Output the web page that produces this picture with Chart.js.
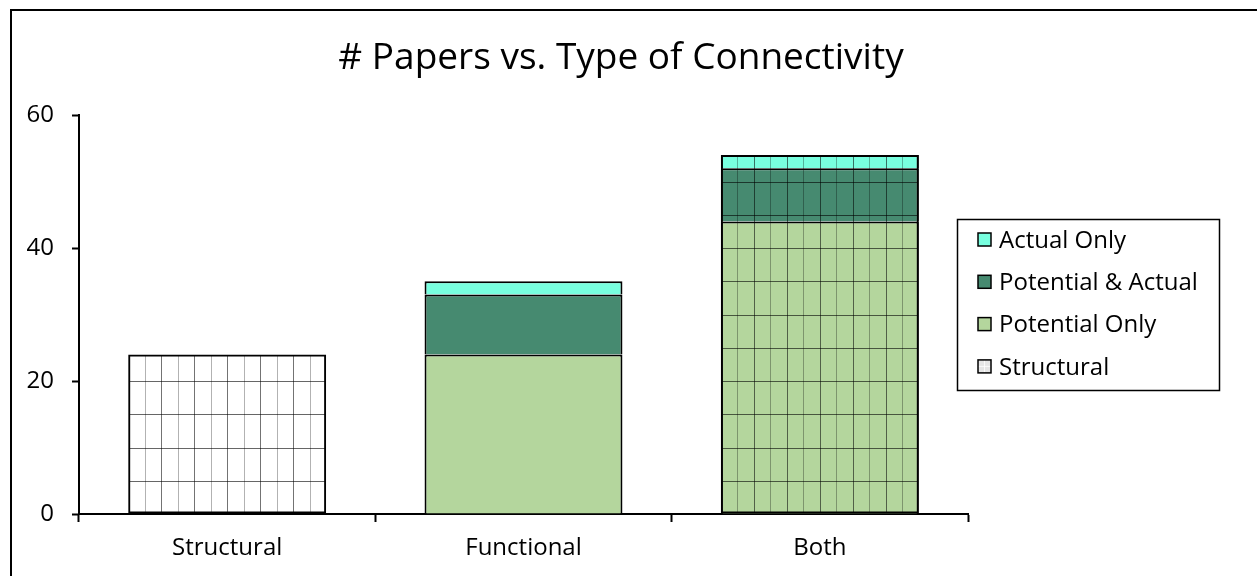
<!DOCTYPE html>
<html>
<head>
<meta charset="utf-8">
<script src="https://cdn.jsdelivr.net/npm/chart.js@4.4.1/dist/chart.umd.min.js"></script>
<style>
  html, body { margin: 0; padding: 0; background: #fff; }
  #wrap { position: relative; width: 1257px; height: 576px; }
</style>
</head>
<body>
<div id="wrap"><canvas id="chart"></canvas></div>
<script>
// Papers counted per connectivity type, split by how functional connectivity was used.
const categories = ["Structural", "Functional", "Both"];
const potentialOnly = [null, 24, 44];
const potentialActual = [null, 9, 8];
const actualOnly = [null, 2, 2];
const structural = [24, null, 54];
const yTicks = [0, 20, 40, 60];

const FONT = "'Open Sans', 'Noto Sans', sans-serif";
const GREEN_LIGHT = "#b4d69d";
const GREEN_DARK = "#468a70";
const CYAN = "#78ffdf";

// The structural series is a hollow bar with a fine grid inside it, laid over
// whatever functional segments share the category.
const structuralGrid = {
  id: "structuralGrid",
  afterDatasetsDraw(chart) {
    const { ctx, scales } = chart;
    const meta = chart.getDatasetMeta(0);
    meta.data.forEach((bar, i) => {
      const v = structural[i];
      if (v == null) return;
      const { x, y, base, width } = bar.getProps(["x", "y", "base", "width"], true);
      const left = x - width / 2;
      ctx.save();
      ctx.beginPath();
      ctx.rect(left + 1, y + 1, width - 2, base - y - 2);
      ctx.clip();
      ctx.lineWidth = 1;
      for (let k = 1; k < 12; k++) {
        const gx = Math.round(left + (width * k) / 12) + 0.5;
        ctx.strokeStyle = k % 2 ? "rgba(0,0,0,0.3)" : "rgba(0,0,0,0.55)";
        ctx.beginPath(); ctx.moveTo(gx, y); ctx.lineTo(gx, base); ctx.stroke();
      }
      ctx.strokeStyle = "rgba(0,0,0,0.6)";
      for (let t = 5; t < v; t += 5) {
        const gy = Math.round(scales.y.getPixelForValue(t)) + 0.5;
        ctx.beginPath(); ctx.moveTo(left, gy); ctx.lineTo(left + width, gy); ctx.stroke();
      }
      ctx.restore();
    });
  },
};

// Outer frame, title and the boxed legend.
const decorations = {
  id: "decorations",
  beforeDraw(chart) {
    const { ctx, width, height } = chart;
    ctx.save();
    ctx.fillStyle = "#fff";
    ctx.fillRect(0, 0, width, height);
    ctx.strokeStyle = "#000";
    ctx.lineWidth = 2;
    ctx.beginPath();
    ctx.moveTo(11, height + 5);
    ctx.lineTo(11, 10);
    ctx.lineTo(width + 5, 10);
    ctx.stroke();
    ctx.fillStyle = "#000";
    ctx.font = `37px ${FONT}`;
    ctx.textAlign = "center";
    ctx.textBaseline = "middle";
    ctx.fillText("# Papers vs. Type of Connectivity", 621, 58);
    ctx.restore();
  },
  afterDraw(chart) {
    const { ctx } = chart;
    const ds = chart.data.datasets;
    const entries = [ds[3], ds[2], ds[1], ds[0]];
    ctx.save();
    ctx.fillStyle = "#fff";
    ctx.fillRect(957, 219, 262, 171);
    ctx.strokeStyle = "#000";
    ctx.lineWidth = 1.5;
    ctx.strokeRect(957.5, 219.5, 262, 171);
    ctx.font = `24px ${FONT}`;
    ctx.textBaseline = "middle";
    entries.forEach((d, i) => {
      const cy = 240 + i * 42.3;
      ctx.fillStyle = d.legendFill || d.backgroundColor;
      ctx.fillRect(978, cy - 7, 13, 13);
      if (d.legendFill) {
        ctx.strokeStyle = "rgba(255,255,255,0.8)";
        ctx.lineWidth = 1;
        ctx.beginPath();
        ctx.moveTo(984.5, cy - 7); ctx.lineTo(984.5, cy + 6);
        ctx.moveTo(978, cy - 0.5); ctx.lineTo(991, cy - 0.5);
        ctx.stroke();
      }
      ctx.strokeStyle = "#000";
      ctx.lineWidth = 1.5;
      ctx.strokeRect(978, cy - 7, 13, 13);
      ctx.fillStyle = "#000";
      ctx.fillText(d.label, 999, cy + 1);
    });
    ctx.restore();
  },
};

// grouped:false puts every stack on the category centre, so the structural
// stack lies directly over the functional one.
const barStyle = {
  borderColor: "#000",
  borderWidth: 2,
  categoryPercentage: 1,
  barPercentage: 0.668,
  grouped: false,
};

new Chart(document.getElementById("chart"), {
  type: "bar",
  data: {
    labels: categories,
    datasets: [
      { label: "Structural", data: structural, stack: "structural", order: -1,
        backgroundColor: "rgba(255,255,255,0)", legendFill: "#e6e6e6",
        ...barStyle, borderSkipped: false },
      { label: "Potential Only", data: potentialOnly, stack: "functional",
        backgroundColor: GREEN_LIGHT, ...barStyle },
      { label: "Potential & Actual", data: potentialActual, stack: "functional",
        backgroundColor: GREEN_DARK, ...barStyle },
      { label: "Actual Only", data: actualOnly, stack: "functional",
        backgroundColor: CYAN, ...barStyle },
    ],
  },
  options: {
    responsive: true,
    maintainAspectRatio: false,
    animation: false,
    layout: { padding: { top: 115, right: 289, bottom: 0, left: 0 } },
    plugins: {
      legend: { display: false },
      title: { display: false },
      tooltip: { enabled: false },
    },
    scales: {
      x: {
        stacked: true,
        offset: true,
        afterFit: (s) => { s.height = 62; },
        grid: { offset: true, drawOnChartArea: false, drawTicks: true, tickLength: 8,
          tickColor: "#000", tickWidth: 2 },
        border: { display: true, color: "#000", width: 2 },
        ticks: { color: "#000", font: { family: FONT, size: 24 }, padding: 12 },
      },
      y: {
        stacked: true,
        min: 0,
        max: 60,
        afterFit: (s) => { s.width = 79; },
        afterBuildTicks: (s) => { s.ticks = yTicks.map((v) => ({ value: v })); },
        grid: { drawOnChartArea: false, drawTicks: true, tickLength: 7,
          tickColor: "#000", tickWidth: 2 },
        border: { display: true, color: "#000", width: 2 },
        ticks: { color: "#000", font: { family: FONT, size: 24 }, padding: 18 },
      },
    },
  },
  plugins: [decorations, structuralGrid],
});
</script>
</body>
</html>
